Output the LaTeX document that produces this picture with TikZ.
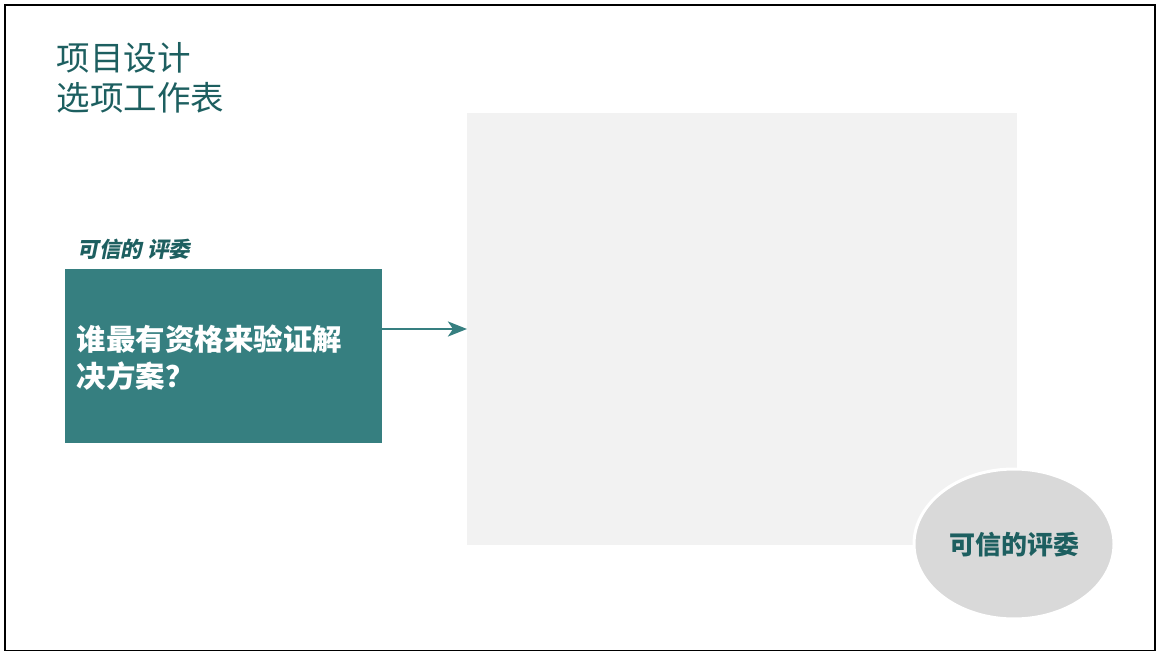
\documentclass[tikz,border=0pt]{standalone}
\usepackage{fontspec}
\newfontfamily\cjk{Noto Sans CJK SC}
\newfontfamily\cjksl[FakeSlant=0.2]{Noto Sans CJK SC}
\usetikzlibrary{arrows.meta,shapes.geometric}
\definecolor{tealbox}{HTML}{367F80}
\definecolor{darkteal}{HTML}{1D5F60}
\definecolor{panelgray}{HTML}{F2F2F2}
\definecolor{ellgray}{HTML}{D9D9D9}
\tikzset{
  txt/.style={inner sep=0pt, anchor=base west},
  arrowline/.style={draw=tealbox, line width=2.8pt, -{Stealth[length=19pt, width=15pt, inset=5pt]}},
}
\begin{document}
\begin{tikzpicture}[x=1pt, y=-1pt]
\useasboundingbox (0,0) rectangle (1157,652);
\fill[white] (0,0) rectangle (1157,652);
\draw[black, line width=1.8pt] (5,5) rectangle (1155,650.5);
% title
\node[txt, text=darkteal, font=\cjk\fontsize{33.5}{40}\selectfont] (t1) at (56.5,70.5) {项目设计};
\node[txt, text=darkteal, font=\cjk\fontsize{33.5}{40}\selectfont] (t2) at (56.5,110.5) {选项工作表};
% panel
\node[fill=panelgray, draw=none, minimum width=550pt, minimum height=432pt, inner sep=0pt, anchor=north west] (panel) at (467,113) {};
% label
\node[txt, text=darkteal, font=\cjksl\bfseries\fontsize{21.5}{24}\selectfont] (lab) at (77.5,257.5) {可信的 评委};
% question box
\node[fill=tealbox, draw=none, minimum width=317pt, minimum height=174pt, inner sep=0pt, anchor=north west] (q) at (65,269) {};
\node[txt, text=white, font=\cjk\bfseries\fontsize{29.5}{37}\selectfont] (q1) at (76.5,351) {谁最有资格来验证解};
\node[txt, text=white, font=\cjk\bfseries\fontsize{29.5}{37}\selectfont] (q2) at (76.5,388) {决方案？};
% arrow
\coordinate (ay) at (0,329);
\draw[arrowline] (q.east |- ay) -- (panel.west |- ay);
% ellipse
\node[ellipse, fill=ellgray, draw=white, line width=3pt, minimum width=200pt, minimum height=150pt, inner sep=0pt] (ell) at (1014,544) {};
\node[inner sep=0pt, anchor=base, text=darkteal, font=\cjk\bfseries\fontsize{26}{30}\selectfont] (elltxt) at (1014,554) {可信的评委};
\end{tikzpicture}
\end{document}
